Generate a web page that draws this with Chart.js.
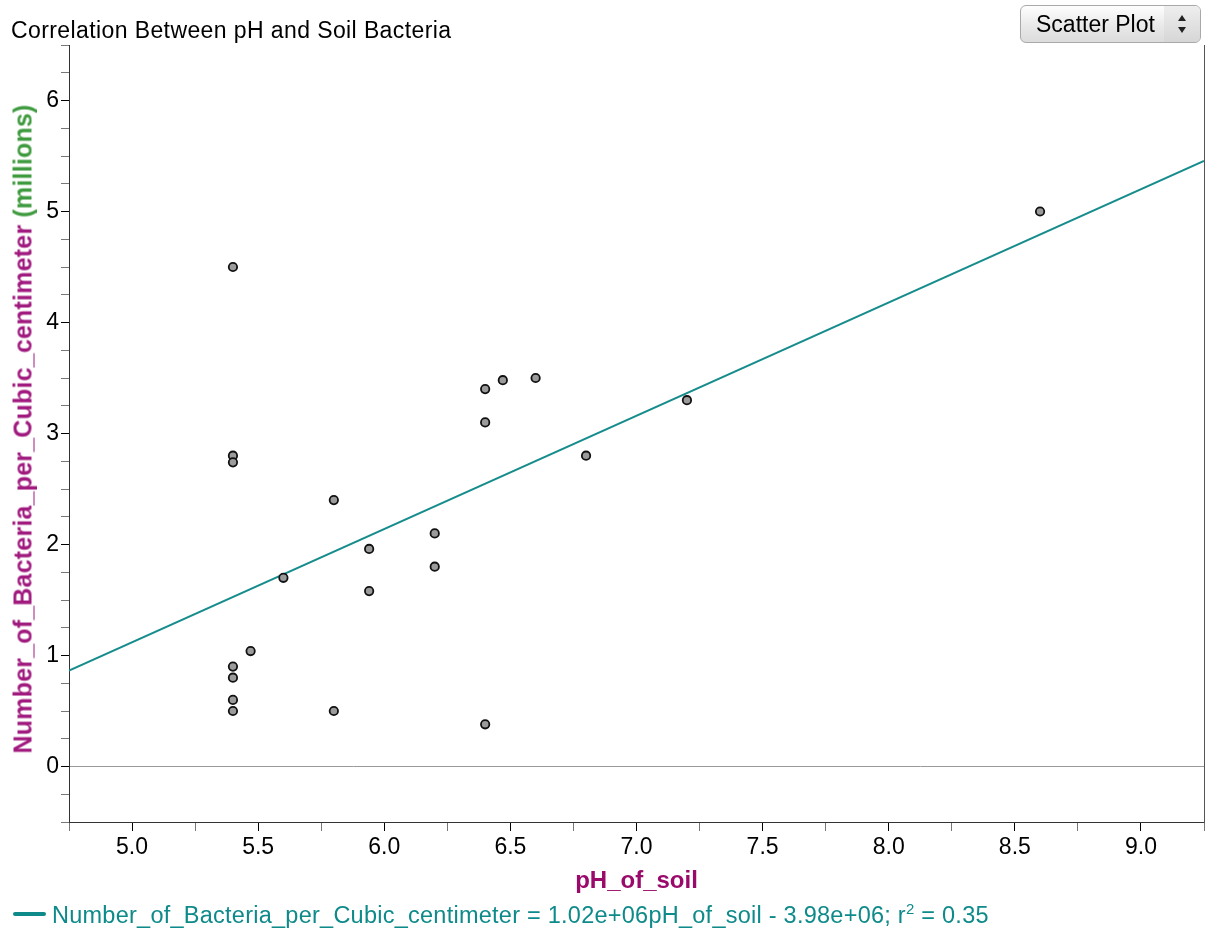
<!DOCTYPE html>
<html>
<head>
<meta charset="utf-8">
<script src="https://cdn.jsdelivr.net/npm/chart.js@4"></script>
<style>
  html, body { margin:0; padding:0; background:#fff; }
  #wrap { position:relative; width:1206px; height:935px; overflow:hidden; font-family:"Liberation Sans", Arial, sans-serif; }
  #c { position:absolute; left:0; top:0; }
  #title { position:absolute; left:11px; top:19px; font-size:23px; line-height:23px; color:#000; white-space:nowrap; letter-spacing:0.4px; }
  #btn { position:absolute; left:1020px; top:5px; width:181px; height:38px; border:1px solid #a9a9a9; border-radius:6px;
         background:linear-gradient(#fefefe, #e9e9e9 55%, #dcdcdc); box-sizing:border-box; overflow:hidden; }
  #btn .lbl { position:absolute; left:15px; top:7px; font-size:23px; line-height:23px; color:#000; white-space:nowrap; }
  #btn .arr { position:absolute; right:0; top:0; width:36px; height:100%; background:linear-gradient(#eeeeee, #d6d6d6); }
  #btn .arr i { position:absolute; left:14px; width:0; height:0; border-left:4px solid transparent; border-right:4px solid transparent; }
  #btn .arr .up { top:9px; border-bottom:6px solid #222; }
  #btn .arr .dn { top:21px; border-top:6px solid #222; }
  #ylab { position:absolute; left:23px; top:429px; transform:translate(-50%,-50%) rotate(-90deg); font-weight:bold; font-size:25px; line-height:25px; white-space:nowrap; color:#a0197e; letter-spacing:0.2px; }
  #ylab span { color:#3e9a3e; }
  #legend { position:absolute; left:0; top:904px; height:24px; white-space:nowrap; }
  #legend .sw { position:absolute; left:13px; top:8px; width:33px; height:4px; border-radius:2px; background:#0f8a8a; }
  #legend .tx { position:absolute; left:52px; top:0; font-size:23.5px; line-height:23.5px; color:#0f8a8a; letter-spacing:0.25px; }
  #legend sup { font-size:15px; line-height:0; vertical-align:9px; }
</style>
</head>
<body>
<div id="wrap">
  <canvas id="c" width="1206" height="935"></canvas>
  <div id="title">Correlation Between pH and Soil Bacteria</div>
  <div id="btn"><span class="lbl">Scatter Plot</span><span class="arr"><i class="up"></i><i class="dn"></i></span></div>
  <div id="ylab">Number_of_Bacteria_per_Cubic_centimeter <span>(millions)</span></div>
  <div id="legend"><span class="sw"></span><span class="tx">Number_of_Bacteria_per_Cubic_centimeter = 1.02e+06pH_of_soil - 3.98e+06; r<sup>2</sup> = 0.35</span></div>
</div>
<script>
// ---- data ----
const phOfSoil =         [5.4, 5.4, 5.4, 5.8, 5.94, 5.94, 5.6, 6.2, 6.2, 6.4, 6.4, 6.47, 6.6, 6.8, 7.2, 8.6, 5.47, 5.4, 5.4, 5.4, 5.4, 5.8, 6.4];
const bacteriaMillions = [4.5, 2.8, 2.74, 2.4, 1.96, 1.58, 1.7, 2.1, 1.8, 3.4, 3.1, 3.48, 3.5, 2.8, 3.3, 5.0, 1.04, 0.9, 0.8, 0.6, 0.5, 0.5, 0.38];
const fitSlope = 1.02;      // millions per pH unit
const fitIntercept = -3.98; // millions
const xRange = [4.75, 9.25];
const yRange = [-0.5, 6.5];
const xTickStep = 0.25;
const yTickStep = 0.25;

const FONT = '"Liberation Sans", Arial, sans-serif';
Chart.defaults.font.family = FONT;

const points = phOfSoil.map((x, i) => ({ x: x, y: bacteriaMillions[i] }));
const fitLine = xRange.map(x => ({ x: x, y: fitSlope * x + fitIntercept }));

const isMajorX = v => Math.abs(v * 2 - Math.round(v * 2)) < 1e-9;
const isMajorY = v => Math.abs(v - Math.round(v)) < 1e-9;

new Chart(document.getElementById('c'), {
  type: 'scatter',
  data: {
    datasets: [
      {
        label: 'data',
        data: points,
        pointRadius: 4.2,
        pointHoverRadius: 4.2,
        pointBackgroundColor: '#9b9b9b',
        pointBorderColor: '#111',
        pointBorderWidth: 1.8
      },
      {
        label: 'fit',
        data: fitLine,
        showLine: true,
        pointRadius: 0,
        borderColor: '#178c8c',
        borderWidth: 2
      }
    ]
  },
  options: {
    responsive: false,
    animation: false,
    events: [],
    layout: { autoPadding: false, padding: { left: 0, right: 0, top: 45, bottom: 0 } },
    plugins: { legend: { display: false }, tooltip: { enabled: false }, title: { display: false } },
    scales: {
      x: {
        type: 'linear',
        min: xRange[0], max: xRange[1],
        afterFit: s => { s.height = 113; s.paddingLeft = 0; s.paddingRight = 0; },
        ticks: {
          stepSize: xTickStep, autoSkip: false, maxRotation: 0, includeBounds: true,
          color: '#000', font: { size: 23 }, padding: 3,
          callback: v => isMajorX(v) ? v.toFixed(1) : ''
        },
        grid: {
          drawOnChartArea: false, drawTicks: true, tickLength: 9,
          tickColor: c => (c.tick && isMajorX(c.tick.value)) ? '#000' : '#777'
        },
        border: { display: true, color: '#333', width: 1 },
        title: {
          display: true, text: 'pH_of_soil', color: '#9a0a6a',
          font: { size: 24, weight: 'bold' }, padding: { top: 0, bottom: 39 }
        }
      },
      y: {
        type: 'linear',
        position: 'left',
        min: yRange[0], max: yRange[1],
        afterFit: s => { s.width = 69; },
        ticks: {
          stepSize: yTickStep, autoSkip: false, includeBounds: true,
          color: '#000', font: { size: 23 }, padding: 2,
          callback: v => isMajorY(v) ? String(Math.round(v)) : ''
        },
        grid: {
          drawOnChartArea: true, drawTicks: true, tickLength: 8,
          color: c => (c.tick && c.tick.value === 0) ? '#999999' : 'rgba(0,0,0,0)',
          tickColor: c => (c.tick && isMajorY(c.tick.value)) ? '#000' : '#777'
        },
        border: { display: true, color: '#333', width: 1 }
      },
      yRight: {
        type: 'linear',
        position: 'right',
        min: yRange[0], max: yRange[1],
        afterFit: s => { s.width = 2; },
        ticks: { display: false },
        grid: { drawOnChartArea: false, drawTicks: false },
        border: { display: true, color: '#555', width: 1 }
      }
    }
  }
});
</script>
</body>
</html>
